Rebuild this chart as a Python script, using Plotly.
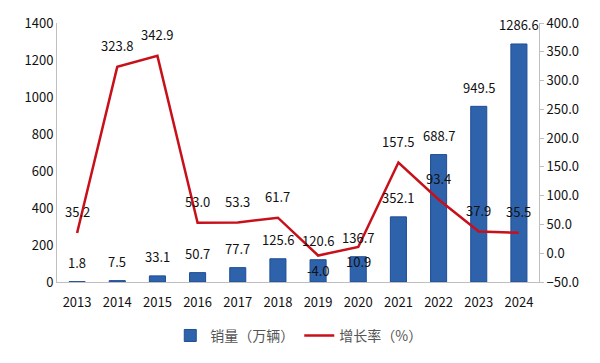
import plotly.graph_objects as go

years = ["2013","2014","2015","2016","2017","2018","2019","2020","2021","2022","2023","2024"]
sales = [1.8, 7.5, 33.1, 50.7, 77.7, 125.6, 120.6, 136.7, 352.1, 688.7, 949.5, 1286.6]
growth = [35.2, 323.8, 342.9, 53.0, 53.3, 61.7, -4.0, 10.9, 157.5, 93.4, 37.9, 35.5]
growth_below = [False]*6 + [True, True] + [False]*4

FONT = "Noto Sans CJK SC"

fig = go.Figure()
fig.add_trace(go.Bar(
    x=years, y=sales, name="销量（万辆）",
    marker=dict(color="#2E62AA", line=dict(color="#1F4E96", width=1)),
    width=0.4,
))
fig.add_trace(go.Scatter(
    x=years, y=growth, name="增长率（%）", yaxis="y2", mode="lines",
    line=dict(color="#C8101A", width=2.5),
))
ann = []
for i, v in enumerate(sales):
    ann.append(dict(x=i, y=v, xref="x", yref="y", text=f"{v:.1f}", showarrow=False,
                    yshift=19, yanchor="middle", font=dict(size=13, color="#111")))
for i, (v, b) in enumerate(zip(growth, growth_below)):
    ann.append(dict(x=i, y=v, xref="x", yref="y2", text=f"{v:.1f}", showarrow=False,
                    yshift=-15 if b else 21, yanchor="middle", font=dict(size=13, color="#111")))
fig.update_layout(
    width=592, height=355,
    margin=dict(l=49, r=61, t=15, b=81, autoexpand=False),
    paper_bgcolor="white", plot_bgcolor="white",
    font=dict(family=FONT, size=13, color="#222"),
    showlegend=True,
    annotations=ann,
    legend=dict(orientation="h", x=0.235, xanchor="left", y=-0.208, yanchor="middle",
                font=dict(size=14, color="#555")),
    xaxis=dict(type="category", range=[-0.5, len(years) - 0.5], showline=True,
               linecolor="#BFBFBF", linewidth=1, ticks="", ticklabelstandoff=8,
               showgrid=False, automargin=False, tickfont=dict(size=13, color="#111")),
    yaxis=dict(range=[0, 1400], dtick=200, showline=True, linecolor="#BFBFBF", linewidth=1,
               automargin=False, showgrid=False, zeroline=False, ticks="",
               tickfont=dict(size=13, color="#111")),
    yaxis2=dict(range=[-50, 400], dtick=50, overlaying="y", side="right", showline=True,
                automargin=False,
                linecolor="#BFBFBF", linewidth=1, ticks="outside", ticklen=4, tickcolor="#BFBFBF",
                showgrid=False, zeroline=False, tickformat=".1f",
                tickfont=dict(size=13, color="#111")),
)
fig.write_html("out.html")
